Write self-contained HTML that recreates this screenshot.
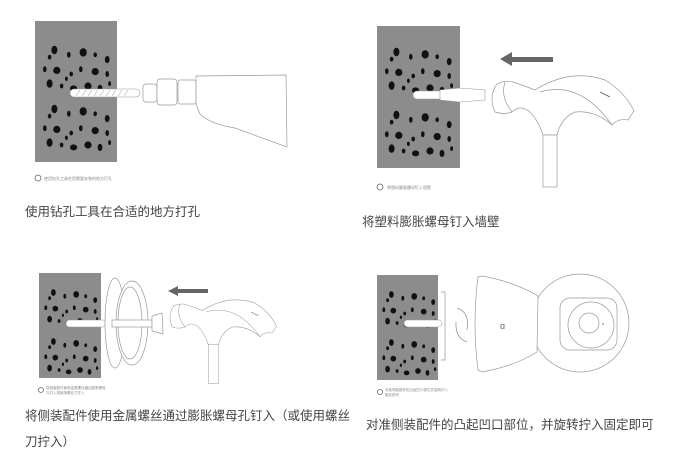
<!DOCTYPE html>
<html><head><meta charset="utf-8"><style>
html,body{margin:0;padding:0;background:#fff;}
body{width:685px;height:467px;overflow:hidden;position:relative;font-family:"Liberation Sans","Noto Sans CJK SC",sans-serif;}
.t{position:absolute;font-size:12.5px;color:#444;white-space:nowrap;}
</style></head><body>
<svg width="685" height="467" style="position:absolute;left:0;top:0">
<defs>
<g id="spots" fill="#111">
<ellipse cx="12" cy="10" rx="2.5" ry="3.5"/><ellipse cx="8" cy="16" rx="1.5" ry="2"/><ellipse cx="24" cy="14" rx="1.5" ry="2.5"/><ellipse cx="36" cy="12" rx="3" ry="3.5"/><ellipse cx="46" cy="14" rx="1.5" ry="2"/><ellipse cx="56" cy="18" rx="2" ry="3"/><ellipse cx="4" cy="26" rx="1.5" ry="2.5"/><ellipse cx="14" cy="27" rx="3" ry="3"/><ellipse cx="26" cy="30" rx="1.5" ry="2"/><ellipse cx="34" cy="26" rx="1.5" ry="2.5"/><ellipse cx="46" cy="28" rx="3" ry="3"/><ellipse cx="56" cy="30" rx="1.5" ry="2.5"/><ellipse cx="8" cy="38" rx="2.5" ry="3.5"/><ellipse cx="18" cy="40" rx="1.5" ry="2"/><ellipse cx="28" cy="42" rx="3" ry="2.5"/><ellipse cx="40" cy="40" rx="3" ry="3"/><ellipse cx="50" cy="42" rx="2" ry="3"/><ellipse cx="58" cy="38" rx="1.2" ry="2"/><ellipse cx="22" cy="34" rx="1.2" ry="1.8"/>
</g>
<g id="hammer">
<g fill="#fff" stroke="#999" stroke-width="0.7">
<path d="M495,112 Q488,96 497,84 Q505,80 513,82 Q525,86 535,90 Q570,68 605,80 Q625,92 634,111 L628,120 Q618,118 612,125 Q595,110 575,112 Q561,118 557,135 L543,135 Q538,120 530,112 Q520,104 512,112 Q503,115 495,112 Z"/>
<rect x="543" y="135" width="14" height="52"/>
</g>
<g stroke="#999" fill="none" stroke-width="0.7"><path d="M540,92 Q580,80 612,125"/><path d="M505,82 Q500,97 512,112"/><line x1="600" y1="92" x2="610" y2="97" stroke="#555"/></g>
</g>
</defs>
<!-- Panel 1 -->
<rect x="35" y="21" width="82" height="141" fill="#8c8c8c"/>
<use href="#spots" transform="translate(40,38) scale(1.2)"/>
<use href="#spots" transform="translate(40,97) scale(1.2)"/>
<rect x="70" y="89" width="70" height="8" rx="4" fill="#fff" stroke="#999" stroke-width="0.6"/>
<g stroke="#aaa" stroke-width="0.6"><line x1="76" y1="96" x2="80" y2="90"/><line x1="82" y1="96" x2="86" y2="90"/><line x1="88" y1="96" x2="92" y2="90"/><line x1="94" y1="96" x2="98" y2="90"/><line x1="100" y1="96" x2="104" y2="90"/><line x1="106" y1="96" x2="110" y2="90"/><line x1="112" y1="96" x2="116" y2="90"/><line x1="118" y1="96" x2="122" y2="90"/><line x1="124" y1="96" x2="128" y2="90"/></g>
<g fill="#fff" stroke="#999" stroke-width="0.7">
<rect x="143" y="84" width="14" height="18" rx="3"/>
<rect x="157" y="79" width="20" height="26" rx="3"/>
<rect x="178" y="80" width="18" height="24" rx="2"/>
<path d="M196,76 L286,75 L287,147 L235,128 Q210,124 200,114 L196,104 Z"/>
</g>
<circle cx="38" cy="178" r="3" fill="none" stroke="#666" stroke-width="0.8"/>
<text x="44" y="180" font-size="4" fill="#888">使用钻孔工具在您需要安装的地方打孔</text>
<!-- Panel 2 -->
<rect x="377" y="26" width="83" height="142" fill="#8c8c8c"/>
<use href="#spots" transform="translate(382,40) scale(1.2)"/>
<use href="#spots" transform="translate(382,103) scale(1.2)"/>
<rect x="413" y="91" width="45" height="8" rx="4" fill="#fff" stroke="#999" stroke-width="0.5"/>
<g fill="#fff" stroke="#999" stroke-width="0.6"><path d="M440,90 L460,88 L485,90 L485,100 L460,102 L440,100 Z"/></g>
<polygon points="500,59 512,52 512,57 553,57 553,62 512,62 512,66" fill="#666"/>
<use href="#hammer"/>
<circle cx="380" cy="187" r="3" fill="none" stroke="#666" stroke-width="0.8"/>
<text x="387" y="189" font-size="4" fill="#888">将塑料膨胀螺母钉入墙壁</text>
<!-- Panel 3 -->
<rect x="39" y="273" width="62" height="105" fill="#8c8c8c"/>
<use href="#spots" transform="translate(42,283) scale(0.95)"/>
<use href="#spots" transform="translate(42,332) scale(0.95)"/>
<rect x="66" y="320" width="40" height="7" rx="3.5" fill="#fff" stroke="#999" stroke-width="0.5"/>
<g fill="#fff" stroke="#999" stroke-width="0.7">
<ellipse cx="115" cy="323" rx="10" ry="45"/>
<ellipse cx="132" cy="323" rx="16" ry="42"/>
<ellipse cx="130" cy="323" rx="12" ry="36"/>
<rect x="112" y="320" width="40" height="7"/>
<path d="M152,316 L162,313 L163,334 L152,331 Z"/>
</g>
<use href="#hammer" transform="translate(-199,243) scale(0.75)"/>
<polygon points="168,291 178,286 178,289 208,289 208,293 178,293 178,296" fill="#666"/>
<circle cx="41" cy="390" r="2.5" fill="none" stroke="#666" stroke-width="0.8"/>
<text x="46" y="389" font-size="3.5" fill="#888">将侧装配件使用金属螺丝通过膨胀螺母</text>
<text x="46" y="394" font-size="3.5" fill="#888">孔钉入或使用螺丝刀拧入</text>
<!-- Panel 4 -->
<rect x="377" y="275" width="61" height="105" fill="#8c8c8c"/>
<use href="#spots" transform="translate(380,285) scale(0.95)"/>
<use href="#spots" transform="translate(380,333) scale(0.95)"/>
<rect x="404" y="320" width="38" height="7" rx="3.5" fill="#fff" stroke="#999" stroke-width="0.5"/>
<path d="M441,292 L445,292 L445,360 L441,360" fill="none" stroke="#999" stroke-width="0.7"/>
<g fill="none" stroke="#999" stroke-width="0.8"><path d="M457,308 Q470,312 467,330"/><path d="M467,342 Q455,338 456,322"/></g>
<g fill="#fff" stroke="#999" stroke-width="0.7">
<circle cx="580" cy="323" r="49"/>
<rect x="560" y="298" width="57" height="52" rx="10"/>
<circle cx="591" cy="325" r="23"/>
<circle cx="589" cy="323" r="10"/>
<path d="M478,277 L482,276 Q515,282 538,296 L537,352 Q515,366 482,372 L478,370 Q472,323 478,277 Z"/>
</g>
<circle cx="603" cy="324" r="1" fill="#aaa"/>
<text x="500" y="329" font-size="9" fill="#666">ɑ</text>
<circle cx="380" cy="392" r="2.5" fill="none" stroke="#666" stroke-width="0.8"/>
<text x="385" y="391" font-size="3.5" fill="#888">对准侧装配件的凸起凹口部位并旋转拧入</text>
<text x="385" y="396" font-size="3.5" fill="#888">固定即可</text>
</svg>
<div class="t" style="left:25px;top:201px;">使用钻孔工具在合适的地方打孔</div>
<div class="t" style="left:362px;top:211px;">将塑料膨胀螺母钉入墙壁</div>
<div class="t" style="left:25px;top:405px;">将侧装配件使用金属螺丝通过膨胀螺母孔钉入（或使用螺丝</div>
<div class="t" style="left:25px;top:431px;">刀拧入）</div>
<div class="t" style="left:366px;top:414px;">对准侧装配件的凸起凹口部位，并旋转拧入固定即可</div>
</body></html>
